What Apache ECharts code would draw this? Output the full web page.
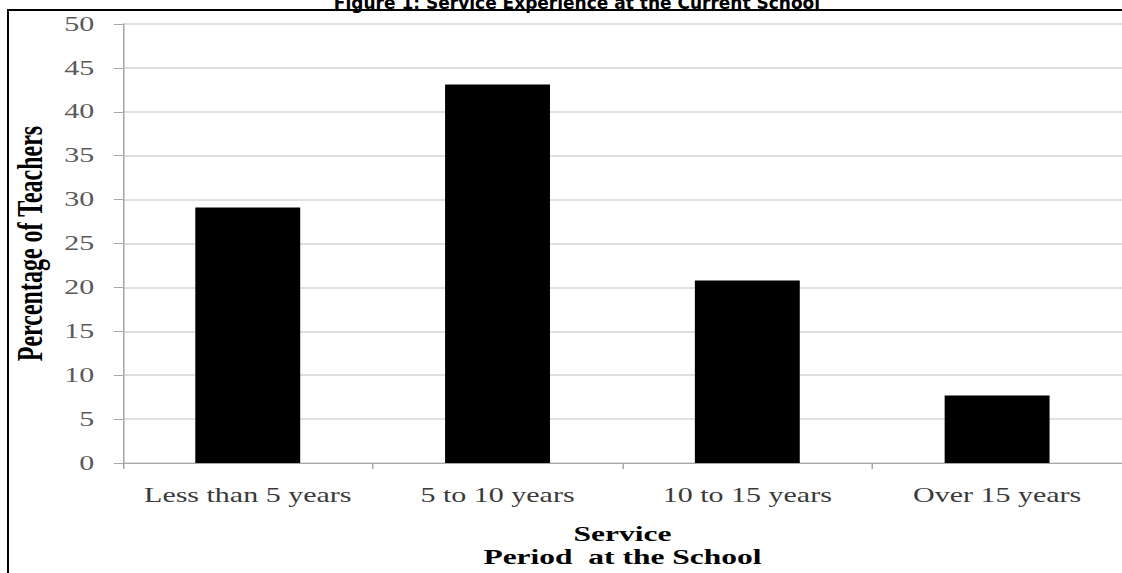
<!DOCTYPE html>
<html>
<head>
<meta charset="utf-8">
<script src="https://cdn.jsdelivr.net/npm/echarts@6/dist/echarts.min.js"></script>
<style>
  html, body { margin: 0; padding: 0; background: #fff; overflow: hidden; }
  #wrap { width: 1122px; height: 573px; overflow: hidden; position: relative; }
  /* the chart is laid out on a narrower canvas and widened to the page */
  #chart { width: 748px; height: 573px; transform: scaleX(1.5); transform-origin: 0 0; }
</style>
</head>
<body>
<div id="wrap"><div id="chart"></div></div>
<script>
const SX = 1.5;

const titleText = 'Figure 1: Service Experience at the Current School';
const categories = ['Less than 5 years', '5 to 10 years', '10 to 15 years', 'Over 15 years'];
const percentages = [29.1, 43.1, 20.8, 7.7];
const yMin = 0, yMax = 50, yStep = 5;
const yAxisTitle = 'Percentage of Teachers';
const xAxisTitle = 'Service\nPeriod  at the School';

const chart = echarts.init(document.getElementById('chart'), null, { renderer: 'svg' });

chart.setOption({
  animation: false,
  backgroundColor: '#ffffff',
  grid: { left: 77.3, top: 24, width: 675.3, height: 443, containLabel: false },
  xAxis: {
    type: 'category',
    data: categories,
    boundaryGap: true,
    axisLine: { lineStyle: { color: '#a6a6a6', width: 1 } },
    axisTick: { show: true, alignWithLabel: false, length: 6, lineStyle: { color: '#a6a6a6' } },
    axisLabel: { interval: 0, margin: 22, fontFamily: 'Liberation Serif', fontSize: 20, color: '#3a3a3a' },
    name: xAxisTitle,
    nameLocation: 'middle',
    nameGap: 59,
    nameTextStyle: { fontFamily: 'Liberation Serif', fontWeight: 'bold', fontSize: 21, color: '#000', lineHeight: 23 }
  },
  yAxis: {
    type: 'value',
    min: yMin, max: yMax, interval: yStep,
    axisLine: { show: true, lineStyle: { color: '#a6a6a6', width: 1 } },
    axisTick: { show: true, length: 6, lineStyle: { color: '#a6a6a6' } },
    splitLine: { lineStyle: { color: '#d4d4d4', width: 1.5 } },
    axisLabel: { margin: 19, fontFamily: 'Liberation Serif', fontSize: 20, color: '#5a5a5a' },
    name: yAxisTitle,
    nameLocation: 'middle',
    nameGap: 47,
    nameTextStyle: { fontFamily: 'Liberation Serif', fontWeight: 'bold', fontSize: 24, color: '#000' }
  },
  series: [{
    type: 'bar',
    data: percentages,
    barWidth: '42%',
    itemStyle: { color: '#000' }
  }],
  graphic: [
    {
      type: 'text',
      x: 577 / SX,
      y: 11,
      scaleX: 1 / SX,
      style: {
        text: titleText,
        font: 'bold 17px "DejaVu Sans"',
        fill: '#000',
        align: 'center',
        verticalAlign: 'bottom'
      }
    },
    {
      type: 'line',
      shape: { x1: 8 / SX, y1: 10, x2: 748, y2: 10 },
      style: { stroke: '#000', lineWidth: 2 }
    },
    {
      type: 'line',
      shape: { x1: 8 / SX, y1: 9, x2: 8 / SX, y2: 573 },
      style: { stroke: '#000', lineWidth: 2 / SX }
    }
  ]
});
</script>
</body>
</html>
